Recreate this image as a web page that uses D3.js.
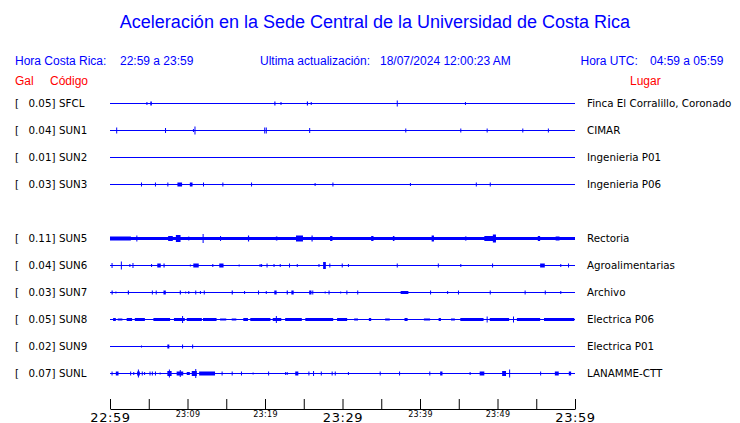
<!DOCTYPE html>
<html><head><meta charset="utf-8">
<script src="https://cdn.jsdelivr.net/npm/d3@7"></script>
<style>body{margin:0;background:#fff} svg{display:block}</style>
</head><body><svg id="c" width="740" height="423"></svg>
<script>
// ---------- data ----------
const stations = ["SFCL","SUN1","SUN2","SUN3","SUN5","SUN6","SUN7","SUN8","SUN9","SUNL"];
const galValues = [0.05,0.04,0.01,0.03,0.11,0.04,0.03,0.05,0.02,0.07];
const places = ["Finca El Corralillo, Coronado","CIMAR","Ingenieria P01","Ingenieria P06","Rectoria",
  "Agroalimentarias","Archivo","Electrica P06","Electrica P01","LANAMME-CTT"];
const rowSlots = [0,1,2,3,5,6,7,8,9,10];
const baseNoise = [0.5,0.5,0.5,0.5,1.5,0.5,0.5,0.5,0.5,0.5];
// events: [minute after 22:59, duration (min), amplitude]
const evSFCL = [[4.7,0.1,1.5],[5.2,0.2,2],[21.2,0.15,2],[22.0,0.1,1.5],[25.4,0.15,2],[25.9,0.1,1.5],[37.0,0.1,3],[45.8,0.1,1.5]];
const evSUN1 = [[0.8,0.1,3],[7.1,0.1,2.5],[10.7,0.1,1.5],[10.9,0.1,4],[19.9,0.1,3],[20.1,0.1,3],[25.7,0.1,2.5],
  [38.1,0.1,2],[45.2,0.1,2],[48.6,0.1,2],[53.2,0.1,2],[56.5,0.1,2]];
const evSUN2 = [];
const evSUN3 = [[4.0,0.1,2],[5.8,0.1,2],[7.4,0.1,2],[8.7,0.6,2],[10.3,0.35,2],[12.0,0.1,2],[14.5,0.1,2],[18.2,0.1,2],
  [26.4,0.1,1.5],[28.7,0.1,2],[38.7,0.1,1.5],[47.2,0.1,2],[49.0,0.1,2]];
const evSUN5 = [[0,2.7,2],[3.4,0.1,3],[7.5,0.6,2.5],[8.5,0.6,3.5],[10.1,0.1,2],[11.95,0.12,4.5],[14.2,0.1,2.5],[17.8,0.15,3],
  [21.4,0.2,2],[24.0,0.9,3],[26.0,0.15,3],[28.4,0.3,2.5],[33.7,0.3,2.5],[36.5,0.2,2.5],[41.5,0.3,3],[45.8,0.2,2],
  [48.3,1.5,2.5],[49.4,0.4,4],[55.2,0.3,2.5],[57.5,0.5,2]];
const evSUN6 = [[0.2,0.1,2.5],[1.4,0.1,4],[2.5,0.1,1.5],[2.9,0.1,2.5],[5.3,0.1,1.5],[6.1,0.45,2],[6.9,0.15,2],[10.3,0.1,1],
  [10.75,0.7,2],[13.2,0.1,1.5],[14.1,0.55,2],[16.6,0.1,1],[19.3,0.1,1.5],[19.5,0.1,1.5],[20.2,0.1,2],[21.1,0.1,1.5],
  [21.9,0.1,1.5],[23.1,0.1,2],[24.1,0.1,1.5],[26.9,0.1,1.5],[27.5,0.35,3.5],[28.3,0.1,2],[29.9,0.1,2],[30.7,0.1,1.5],
  [37.0,0.1,2],[42.3,0.1,2],[45.2,0.1,1.5],[49.3,0.1,2],[55.5,0.6,2],[58.1,0.1,1.5],[59.1,0.1,2]];
const evSUN7 = [[0.2,0.15,2],[0.7,0.1,1],[2.3,0.15,2],[5.4,0.1,2],[5.9,0.1,2],[6.9,0.3,2],[9.0,0.15,2],[9.7,0.1,1],
  [10.1,0.1,1.5],[11.0,0.1,2],[11.6,0.1,1.5],[12.1,0.1,2],[15.7,0.15,2],[17.3,0.1,1.5],[19.1,0.1,2],[20.1,0.1,1.5],
  [21.2,0.3,2],[22.8,0.15,2],[23.4,0.3,2],[25.7,0.3,2],[26.1,0.1,2],[27.7,0.1,1],[28.2,0.1,2],[29.7,0.1,1],[30.5,0.1,2],
  [31.9,0.1,2],[37.5,1.0,1.5],[41.3,0.1,2],[43.5,0.1,1.5],[44.9,0.1,2],[49.0,0.1,2],[53.5,0.1,2],[56.1,0.1,2],[58.1,0.1,1.5]];
const evSUN8 = [[0.4,0.35,1.5],[1.0,0.6,1],[2.15,0.7,1.5],[3.2,1.3,1.5],[5.6,2.15,1.5],[8.25,1.4,1.5],[9.3,0.1,3.5],
  [9.9,1.95,1.5],[12.0,1.75,1.5],[14.2,0.8,1],[15.7,0.6,1],[17.2,0.6,1.5],[18.1,2.6,1.5],[21.0,1.1,1.5],[21.4,0.1,3.5],
  [22.6,2.15,1.5],[25.2,3.6,1.5],[29.3,1.3,1.5],[31.5,0.5,1],[33.4,0.3,1.5],[35.5,0.6,1],[38.0,0.4,1.5],[40.5,0.8,1],
  [42.4,0.3,1.5],[44.0,0.5,1],[45.2,3.0,1.5],[48.6,0.1,3],[49.0,2.5,1.5],[52.0,0.1,3],[52.5,3.0,1.5],[56.0,3.9,1.5]];
const evSUN9 = [[4.0,0.1,1],[7.4,0.25,2],[9.3,0.1,2],[10.6,0.1,2]];
const evSUNL = [[0.2,0.1,2],[0.75,0.35,2],[2.6,0.1,2],[3.0,0.1,1.5],[3.5,0.35,2],[3.6,0.1,4],[4.1,0.1,2],[4.4,0.1,1.5],
  [5.1,0.1,2],[5.4,0.1,2],[5.8,0.1,2],[6.4,0.1,1],[7.4,0.55,2.5],[7.6,0.1,4],[8.6,0.85,2],[9.0,0.1,3.5],[9.9,0.4,1.5],
  [10.55,0.65,2.5],[11.0,0.1,4.5],[11.5,2.05,2],[14.4,0.1,2],[15.7,0.1,2],[16.9,0.1,2],[18.4,0.1,1],[20.4,0.1,2],
  [22.6,0.1,1.5],[22.8,0.1,1.5],[23.9,0.4,2],[25.6,0.1,2],[26.2,0.1,2.5],[27.2,0.1,2],[28.6,0.1,2],[29.0,0.1,2],
  [30.7,0.1,1.5],[34.8,0.1,2],[37.3,0.1,2],[41.2,0.1,2],[42.6,0.3,2],[46.4,0.1,1.5],[47.7,0.6,2],[50.6,0.5,2.5],
  [51.5,0.1,4],[55.5,0.1,2],[57.4,0.5,2],[59.2,0.3,2]];
const stationEvents = [evSFCL,evSUN1,evSUN2,evSUN3,evSUN5,evSUN6,evSUN7,evSUN8,evSUN9,evSUNL];
const tickMinutes = d3.range(0, 61, 5);
const labelMinutes = [0,10,20,30,40,50,60];
const tickLabels = ["22:59","23:09","23:19","23:29","23:39","23:49","23:59"];
const bigLabels = ["22:59","23:29","23:59"];

// ---------- drawing ----------
const svg = d3.select("#c");
const BLUE = "#0000ff", RED = "#ff0000";
const x = d3.scaleLinear().domain([0, 60]).range([110, 575]);
const y = d3.scaleLinear().domain([0, 10]).range([103.5, 373.5]);
const amp = d3.scaleLinear().domain([0, 10]).range([0, 10]);

svg.append("text").attr("x", 375).attr("y", 28).attr("text-anchor", "middle")
  .attr("font-family", "Liberation Sans, Arial, sans-serif").attr("font-size", 18).attr("fill", BLUE)
  .text("Aceleración en la Sede Central de la Universidad de Costa Rica");

const hdr = [["Hora Costa Rica:",15,65,BLUE],["22:59 a 23:59",120,65,BLUE],["Ultima actualización:",260,65,BLUE],
  ["18/07/2024 12:00:23 AM",380,65,BLUE],["Hora UTC:",580.5,65,BLUE],["04:59 a 05:59",650,65,BLUE],
  ["Gal",15,84.5,RED],["Código",50,84.5,RED],["Lugar",630,84.5,RED]];
svg.selectAll("text.hdr").data(hdr).join("text").attr("class","hdr")
  .attr("x", d => d[1]).attr("y", d => d[2]).attr("fill", d => d[3])
  .attr("font-family", "Liberation Sans, Arial, sans-serif").attr("font-size", 12)
  .text(d => d[0]);

const lab = { "font-family": "DejaVu Sans, sans-serif", "font-size": 10.3 };
const rows = svg.selectAll("g.row").data(stations).join("g").attr("class", "row")
  .attr("transform", (d, i) => `translate(0,${y(rowSlots[i])})`);
rows.append("text").attr("x", 15).attr("y", 3.8).attr("font-family", lab["font-family"]).attr("font-size", lab["font-size"]).text("[");
rows.append("text").attr("x", 55.5).attr("y", 3.8).attr("text-anchor", "end").attr("font-family", lab["font-family"]).attr("font-size", lab["font-size"])
  .text((d, i) => galValues[i].toFixed(2) + "]");
rows.append("text").attr("x", 59).attr("y", 3.8).attr("font-family", lab["font-family"]).attr("font-size", lab["font-size"]).text(d => d);
rows.append("text").attr("x", 587).attr("y", 3.8).attr("font-family", lab["font-family"]).attr("font-size", lab["font-size"]).text((d, i) => places[i]);

rows.append("line").attr("x1", x(0)).attr("x2", x(60)).attr("y1", 0).attr("y2", 0)
  .attr("stroke", BLUE).attr("stroke-width", (d, i) => Math.max(1, 2 * amp(baseNoise[i])));
rows.each(function (d, i) {
  d3.select(this).selectAll("rect").data(stationEvents[i]).join("rect")
    .attr("x", e => x(e[0]))
    .attr("width", e => Math.max(1, x(e[0] + e[1]) - x(e[0])))
    .attr("y", e => -amp(e[2]))
    .attr("height", e => 2 * amp(e[2]))
    .attr("fill", BLUE);
});

// axis
const ax = svg.append("g").attr("transform", "translate(0,409)");
ax.call(d3.axisTop(x).tickValues(tickMinutes).tickSize(10).tickFormat("").tickSizeOuter(0));
ax.select(".domain").attr("stroke", "#000");
ax.selectAll(".tick line").attr("stroke", "#000");
ax.selectAll("text.tl").data(labelMinutes).join("text").attr("class", "tl")
  .attr("x", d => x(d) + 0.5).attr("text-anchor", "middle")
  .attr("y", (d, i) => bigLabels.includes(tickLabels[i]) ? 12.5 : 8)
  .attr("font-family", "DejaVu Sans, sans-serif")
  .attr("font-size", (d, i) => bigLabels.includes(tickLabels[i]) ? 13 : 8)
  .attr("letter-spacing", (d, i) => bigLabels.includes(tickLabels[i]) ? 0.6 : 0.3)
  .attr("fill", "#000")
  .text((d, i) => tickLabels[i]);
</script></body></html>
